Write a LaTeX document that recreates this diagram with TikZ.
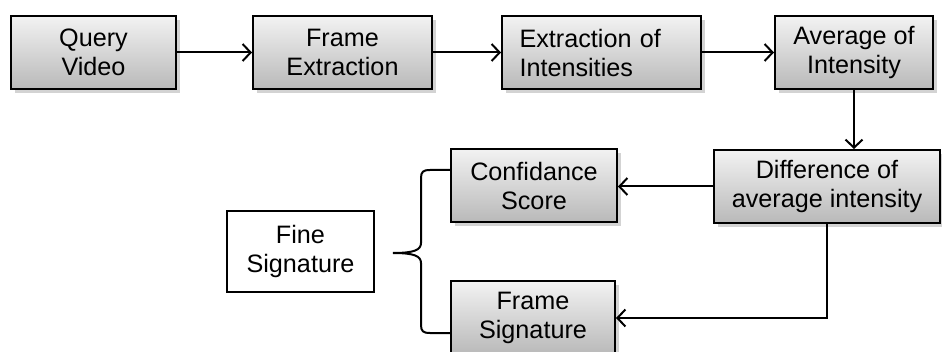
\documentclass[tikz,border=0pt]{standalone}
\usepackage{fontspec}
\setmainfont{Liberation Sans}
\usetikzlibrary{arrows.meta,shadows}

\begin{document}
\begin{tikzpicture}[x=0.5pt,y=-0.5pt,
		stage/.style={draw,line width=1pt,align=center,minimum height=36.5pt,
			top color=gray!10,bottom color=gray!55,
			drop shadow={shadow xshift=2pt,shadow yshift=-2pt,opacity=0.35},
			font=\fontsize{12.6}{14.5}\selectfont},
		flow/.style={line width=1pt,-{Straight Barb[length=4pt,width=8.5pt]}},
		brace/.style={line width=1pt}]
		\useasboundingbox (0,0) rectangle (942,352);
		\clip (0,0) rectangle (942,352);
		% top row
		\node[stage,minimum width=82.5pt] (query) at (93.5,52.5) {Query\\Video};
		\node[stage,minimum width=89.5pt] (frame) at (342.5,52.5) {Frame\\Extraction};
		\node[stage,minimum width=99.5pt,align=left,text width=82pt] (extr) at (601.5,52.5) {Extraction of\\Intensities};
		\node[stage,minimum width=79pt] (avg) at (854,52.5) {Average of\\Intensity};
		% lower part
		\node[stage,minimum width=113pt] (diff) at (827,186.5) {Difference of\\average intensity};
		\node[stage,minimum width=83pt] (conf) at (534,185.5) {Confidance\\Score};
		\node[stage,minimum width=82pt] (fsig) at (533,318) {Frame\\Signature};
		\node[draw,line width=1pt,align=center,minimum width=73.5pt,minimum height=40.5pt,
			font=\fontsize{12.6}{14.5}\selectfont] (fine) at (300.5,251.5) {Fine\\Signature};
		\draw[flow] (query) -- (frame);
		\draw[flow] (frame) -- (extr);
		\draw[flow] (extr) -- (avg);
		\draw[flow] (avg.south) -- (avg.south |- diff.north);
		\draw[flow] (diff.west) -- (diff.west -| conf.east);
		\draw[flow] (diff.south) |- (fsig.east);
		% brace
		\coordinate (bracetop) at (451,170);
		\coordinate (bracebot) at (451,333);
		\coordinate (bracetip) at (393,253);
		\draw[brace] (bracetop) -- (430,170) .. controls (423,170) and (421,172) .. (421,178)
			-- (421,243) .. controls (421,250) and (414,253) .. (bracetip)
			.. controls (414,253) and (421,256) .. (421,263)
			-- (421,325) .. controls (421,331) and (423,333) .. (430,333) -- (bracebot);
	\end{tikzpicture}
\end{document}
